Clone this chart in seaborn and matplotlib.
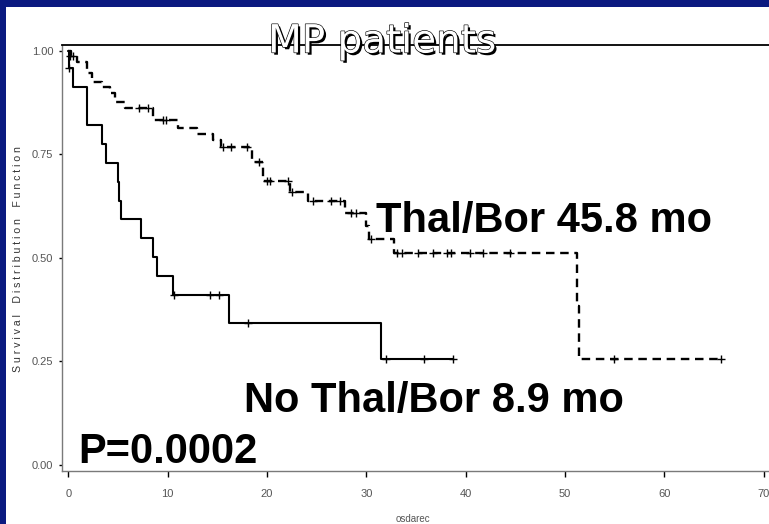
import matplotlib
matplotlib.use("Agg")
import matplotlib.pyplot as plt
import matplotlib.patheffects as pe
from matplotlib.patches import Rectangle
import seaborn as sns
import pandas as pd

# ---- data ----
no_time = [0, 0.1, 0.45, 1.85, 3.4, 3.75, 4.95, 5.1, 5.25, 7.35, 8.55, 8.9, 10.5, 16.2, 31.45, 38.7]
no_surv = [1.0, 0.958, 0.913, 0.82, 0.775, 0.73, 0.684, 0.638, 0.594, 0.548, 0.501, 0.456, 0.41, 0.342, 0.256, 0.256]
no_cens_t = [0.05, 10.6, 14.25, 15.2, 18.05, 32.0, 35.8, 38.7]
no_cens_s = [0.958, 0.41, 0.41, 0.41, 0.342, 0.256, 0.256, 0.256]

tb_time = [0, 0.3, 0.9, 1.85, 2.4, 3.4, 4.2, 4.7, 5.7, 8.5, 11.05, 12.9, 14.6, 15.4, 18.5,
           19.55, 22.3, 24.1, 27.8, 30.0, 30.3, 32.8, 51.2, 51.45, 65.7]
tb_surv = [1.0, 0.987, 0.973, 0.946, 0.925, 0.913, 0.898, 0.877, 0.862, 0.833, 0.813, 0.80, 0.784, 0.767, 0.732,
           0.686, 0.66, 0.638, 0.609, 0.577, 0.545, 0.511, 0.383, 0.255, 0.255]
tb_cens_t = [0.15, 0.5, 7.1, 8.0, 9.5, 9.8, 15.6, 16.4, 18.0, 19.2, 20.0, 20.3, 22.1, 22.5, 24.65, 26.4, 27.3,
             28.5, 29.0, 30.5, 33.05, 33.55, 35.2, 36.7, 38.1, 38.5, 40.4, 41.7, 44.5, 54.9, 65.7]
tb_cens_s = [0.987, 0.987, 0.862, 0.862, 0.833, 0.833, 0.767, 0.767, 0.767, 0.732, 0.686, 0.686, 0.686, 0.66,
             0.638, 0.638, 0.638, 0.609, 0.609, 0.545, 0.511, 0.511, 0.511, 0.511, 0.511, 0.511, 0.511, 0.511,
             0.511, 0.255, 0.255]

x_ticks = [0, 10, 20, 30, 40, 50, 60, 70]
y_ticks = [0.0, 0.25, 0.50, 0.75, 1.00]
y_tick_labels = ["0.00", "0.25", "0.50", "0.75", "1.00"]

title_text = "MP patients"
label_tb = "Thal/Bor 45.8 mo"
label_no = "No Thal/Bor 8.9 mo"
label_p = "P=0.0002"
y_label = "Survival Distribution Function"

# ---- figure ----
sns.set_style("ticks")
plt.rcParams["font.family"] = ["Liberation Sans", "DejaVu Sans"]

W, H = 769, 524
fig = plt.figure(figsize=(W / 100, H / 100), dpi=100)
fig.patch.set_facecolor("#0b1a80")
fig.add_artist(Rectangle((6 / W, 0), 1 - 6 / W, 1 - 7 / H, transform=fig.transFigure,
                         facecolor="white", edgecolor="none", zorder=0))

ax = fig.add_axes([62 / W, 53 / H, (W - 62) / W, (471 - 45) / H])
ax.set_facecolor("none")

df_no = pd.DataFrame({"t": no_time, "s": no_surv})
df_tb = pd.DataFrame({"t": tb_time, "s": tb_surv})
df_no_c = pd.DataFrame({"t": no_cens_t, "s": no_cens_s})
df_tb_c = pd.DataFrame({"t": tb_cens_t, "s": tb_cens_s})

sns.lineplot(data=df_no, x="t", y="s", ax=ax, estimator=None, sort=False,
             drawstyle="steps-post", color="black", linewidth=1.5)
sns.lineplot(data=df_tb, x="t", y="s", ax=ax, estimator=None, sort=False,
             drawstyle="steps-post", color="black", linewidth=1.7, linestyle=(0, (3.6, 2.4)))
sns.scatterplot(data=df_no_c, x="t", y="s", ax=ax, marker="+", s=28, color="black", linewidth=1.0)
sns.scatterplot(data=df_tb_c, x="t", y="s", ax=ax, marker="+", s=28, color="black", linewidth=1.0)

ax.set_xlim(-0.65, 70.54)
ax.set_ylim(-0.0145, 1.0138)
ax.set_xticks(x_ticks)
ax.set_yticks(y_ticks)
ax.set_yticklabels(y_tick_labels)

for side in ["left", "bottom"]:
    ax.spines[side].set_color("#7a7a7a")
    ax.spines[side].set_linewidth(1.0)
ax.spines["top"].set_color("black")
ax.spines["top"].set_linewidth(1.3)
ax.spines["right"].set_visible(False)

ax.tick_params(axis="x", length=4.3, width=1.0, color="black", pad=9, labelsize=8, labelcolor="#555555")
ax.tick_params(axis="y", length=2.2, width=1.0, color="black", pad=4, labelsize=8, labelcolor="#555555")

ax.set_xlabel("osdarec", fontsize=7, color="#555555")
ax.xaxis.set_label_coords(0.4965, -0.113)
ax.xaxis.label.set_va("center")
spaced = "    ".join(" ".join(list(w)) for w in y_label.split())
ax.set_ylabel(spaced, fontsize=7.6, color="#333333")
ax.yaxis.set_label_coords(-0.062, 0.498)
ax.yaxis.label.set_va("center")

bold = dict(fontsize=30, fontweight="bold", color="black", family=["Liberation Sans", "DejaVu Sans"])
ax.text(30.97, 0.5624, label_tb, ha="left", va="baseline", **bold)
ax.text(17.67, 0.128, label_no, ha="left", va="baseline", **bold)
ax.text(0.96, 0.005, label_p, ha="left", va="baseline", **bold)

fig.text(382 / W, 1 - 52.5 / H, title_text, ha="center", va="baseline", fontsize=28,
         color="white", family=["DejaVu Sans"],
         path_effects=[pe.SimplePatchShadow(offset=(1.6, -1.6), shadow_rgbFace="black", alpha=1.0),
                       pe.Stroke(linewidth=0.9, foreground="black"), pe.Normal()])

fig.savefig("out.png", dpi=100, facecolor=fig.get_facecolor())
